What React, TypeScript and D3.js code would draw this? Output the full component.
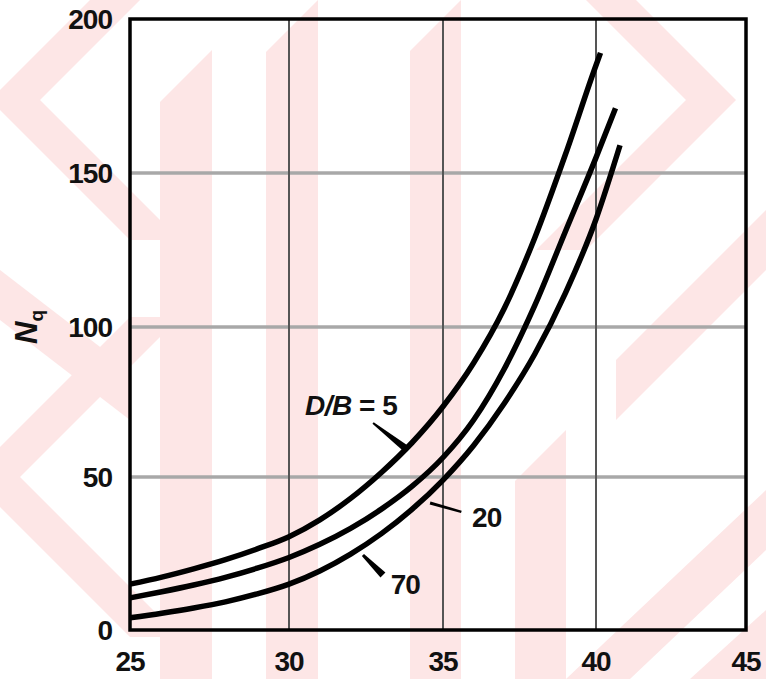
import React from "react";
import * as d3 from "d3";

const W = 766;
const H = 679;

// axis ticks
const xTicks = [25, 30, 35, 40, 45];
const yTicks = [0, 50, 100, 150, 200];

// friction angle (deg) and Nq for each D/B curve
const phi5 = [25, 26, 27, 28, 29, 30, 31, 32, 33, 34, 35, 36, 37, 38, 39, 40, 40.15];
const nq5 = [15, 17.3, 20, 23, 26.5, 30.5, 36, 43, 51.5, 61.5, 73.5, 88, 106, 129, 156, 185, 189];

const phi20 = [25, 26, 27, 28, 29, 30, 31, 32, 33, 34, 35, 36, 37, 38, 39, 40, 40.65];
const nq20 = [10.5, 12.5, 14.7, 17.2, 20.2, 23.7, 28, 33.2, 39.5, 47, 56.5, 69, 86, 107, 131, 155, 171];

const phi70 = [25, 26, 27, 28, 29, 30, 31, 32, 33, 34, 35, 36, 37, 38, 39, 40, 40.8];
const nq70 = [4, 5.5, 7.2, 9.2, 11.8, 15, 19.3, 24.8, 31.5, 39.5, 49, 60.5, 74.5, 91, 111, 135, 159];

const seriesLabels = ["D/B = 5", "20", "70"];

// watermark chevrons: [tipX, tipY, direction(+1 right, -1 left), thickness, armLength]
const chevrons: [number, number, number, number, number][] = [
  [-10, 100, -1, 50, 140],
  [-30, 477, -1, 50, 160],
  [736, 100, 1, 50, 150],
];
// watermark vertical stripes: [x0, x1, yTop]
const stripes: [number, number, number][] = [
  [160, 212, 50],
  [266, 318, 0],
  [410, 461, 0],
  [515, 566, 430],
];
// other watermark pieces
const blobs: [number, number][][] = [
  [[0, 270], [130, 370], [130, 420], [0, 320]],
  [[766, 210], [766, 270], [616, 420], [616, 360]],
  [[566, 679], [766, 490], [766, 550], [630, 679]],
  [[690, 679], [766, 610], [766, 679]],
];

export default function App() {
  const x = d3.scaleLinear().domain([25, 30, 35, 40, 45]).range([130, 289, 443, 596, 746]);
  const y = d3.scaleLinear().domain([0, 50, 100, 150, 200]).range([630, 477, 327, 173, 19]);

  const line = d3
    .line<[number, number]>()
    .x((d) => x(d[0]))
    .y((d) => y(d[1]))
    .curve(d3.curveMonotoneX);

  const series = [
    { phi: phi5, nq: nq5 },
    { phi: phi20, nq: nq20 },
    { phi: phi70, nq: nq70 },
  ];

  const font = "'Liberation Sans', Arial, sans-serif";
  const x0 = x(25), x1 = x(45), y0 = y(0), y1 = y(200);

  const wedge = (a: [number, number], b: [number, number], wa: number, wb: number) => {
    const ax = x(a[0]), ay = y(a[1]), bx = x(b[0]), by = y(b[1]);
    const dx = bx - ax, dy = by - ay;
    const len = Math.hypot(dx, dy);
    const nx = -dy / len, ny = dx / len;
    return `M${ax + (nx * wa) / 2},${ay + (ny * wa) / 2}L${bx + (nx * wb) / 2},${by + (ny * wb) / 2}L${bx - (nx * wb) / 2},${by - (ny * wb) / 2}L${ax - (nx * wa) / 2},${ay - (ny * wa) / 2}Z`;
  };

  const chevronPath = ([tx, ty, dir, t, L]: [number, number, number, number, number]) => {
    // outer tip at (tx,ty); inner tip offset by thickness toward the opening
    const ix = tx - dir * t;
    const ex = tx - dir * L;
    const exi = ix - dir * L;
    return `M${tx},${ty}L${ex},${ty - L}L${exi},${ty - L}L${ix},${ty}L${exi},${ty + L}L${ex},${ty + L}Z`;
  };

  const pink = "#fde6e6";

  return (
    <svg width={W} height={H} style={{ position: "absolute", left: 0, top: 0, background: "#fff" }}>
      <rect x={0} y={0} width={W} height={H} fill="#fff" />
      <g fill={pink}>
        {stripes.map(([a, b, top], i) => (
          <polygon key={"s" + i} points={`${a},${top + (b - a)} ${b},${top} ${b},${H} ${a},${H}`} />
        ))}
        {chevrons.map((c, i) => (
          <path key={"c" + i} d={chevronPath(c)} />
        ))}
        {blobs.map((p, i) => (
          <polygon key={"b" + i} points={p.map((q) => q.join(",")).join(" ")} />
        ))}
      </g>
      {/* horizontal grid */}
      {yTicks.slice(1, -1).map((t) => (
        <line key={t} x1={x0} x2={x1} y1={y(t)} y2={y(t)} stroke="#a8a8a8" strokeWidth={3.5} />
      ))}
      {/* vertical grid */}
      {xTicks.slice(1, -1).map((t) => (
        <line key={t} x1={x(t)} x2={x(t)} y1={y0} y2={y1} stroke="#555" strokeWidth={2} />
      ))}
      {/* frame */}
      <rect x={x0} y={y1} width={x1 - x0} height={y0 - y1} fill="none" stroke="#000" strokeWidth={3.5} />
      {/* curves */}
      {series.map((s, i) => (
        <path
          key={i}
          d={line(s.phi.map((p, j) => [p, s.nq[j]] as [number, number])) || ""}
          fill="none"
          stroke="#000"
          strokeWidth={5.5}
        />
      ))}
      {/* tick labels */}
      {yTicks.map((t) => (
        <text key={t} x={112} y={y(t) + 10} textAnchor="end" fontFamily={font} fontSize={28} fontWeight="bold" fill="#111" letterSpacing={-1}>
          {t}
        </text>
      ))}
      {xTicks.map((t) => (
        <text key={t} x={x(t)} y={671} textAnchor="middle" fontFamily={font} fontSize={28} fontWeight="bold" fill="#111" letterSpacing={-1}>
          {t}
        </text>
      ))}
      {/* y axis title */}
      <text transform="translate(37,344) rotate(-90)" fontFamily={font} fontSize={31} fontWeight="bold" fontStyle="italic" fill="#111">
        N<tspan fontSize={19} dy={6} fontStyle="normal">q</tspan>
      </text>
      {/* annotations */}
      <text x={x(30.52)} y={y(70.7)} fontFamily={font} fontSize={28} fontWeight="bold" fill="#111" letterSpacing={-0.5}>
        <tspan fontStyle="italic">D/B</tspan> = 5
      </text>
      <path d={wedge([32.73, 68], [33.77, 59.7], 2, 7)} fill="#000" />
      <text x={x(35.95)} y={y(33.7)} fontFamily={font} fontSize={28} fontWeight="bold" fill="#111" letterSpacing={-1}>
        {seriesLabels[1]}
      </text>
      <path d={wedge([35.6, 38.6], [34.58, 41.5], 2.5, 3)} fill="#000" />
      <text x={x(33.3)} y={y(11.8)} fontFamily={font} fontSize={28} fontWeight="bold" fill="#111" letterSpacing={-1}>
        {seriesLabels[2]}
      </text>
      <path d={wedge([32.4, 24.5], [33.05, 18], 3, 7)} fill="#000" />
    </svg>
  );
}
